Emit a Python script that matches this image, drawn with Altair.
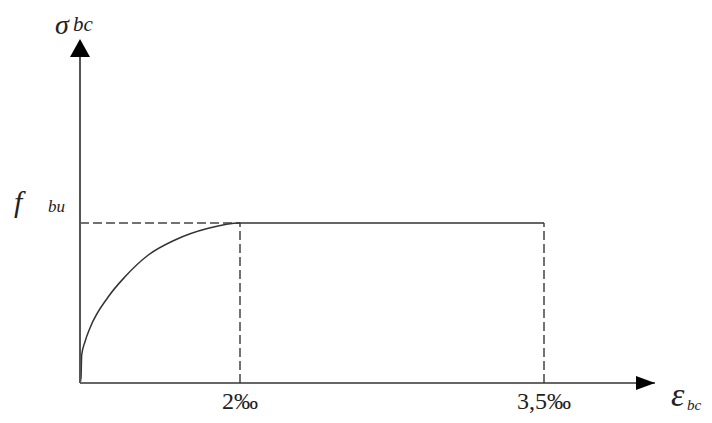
import altair as alt
import pandas as pd

# strain (per mille) and stress (fraction of f_bu) of the parabola-rectangle diagram
curve_eps = [0.0, 0.0125, 0.021, 0.0625, 0.125, 0.354, 0.5625, 0.854, 1.1875, 1.604, 2.0, 3.5]
curve_sig = [0.0, 0.031, 0.175, 0.258, 0.344, 0.539, 0.664, 0.800, 0.894, 0.967, 1.0, 1.0]

tick_eps = [2.0, 3.5]
tick_labels = ["2‰", "3,5‰"]
axis_end_eps = 5.0
axis_end_sig = 2.15

FONT = "'Liberation Serif', 'Times New Roman', Times, serif"
xs = alt.Scale(domain=[0, 2, 3.5, 5], range=[72, 232, 536, 647])
ys = alt.Scale(domain=[0, 1], range=[375, 215])

curve_df = pd.DataFrame({"eps": curve_eps, "sig": curve_sig})
curve = alt.Chart(curve_df).mark_line(color="#333333", strokeWidth=1.5, interpolate="monotone").encode(
    x=alt.X("eps:Q", scale=xs, axis=None),
    y=alt.Y("sig:Q", scale=ys, axis=None),
    order="eps:Q",
)

dash_df = pd.DataFrame({
    "x": [0.0, tick_eps[0], tick_eps[1]],
    "x2": [tick_eps[0], tick_eps[0], tick_eps[1]],
    "y": [1.0, 0.0, 0.0],
    "y2": [1.0, 1.0, 1.0],
})
dashes = alt.Chart(dash_df).mark_rule(color="#444444", strokeWidth=1.5, strokeDash=[9, 4]).encode(
    x=alt.X("x:Q", scale=xs, axis=None), x2="x2:Q",
    y=alt.Y("y:Q", scale=ys, axis=None), y2="y2:Q",
)

axes_df = pd.DataFrame({
    "x": [0.0, 0.0], "x2": [axis_end_eps, 0.0],
    "y": [0.0, 0.0], "y2": [0.0, axis_end_sig - 0.1],
    "c": ["#333333", "#555555"], "w": [1.5, 2.0],
})
axes = alt.Chart(axes_df).mark_rule().encode(
    x=alt.X("x:Q", scale=xs, axis=None), x2="x2:Q",
    y=alt.Y("y:Q", scale=ys, axis=None), y2="y2:Q",
    color=alt.Color("c:N", scale=None),
    strokeWidth=alt.StrokeWidth("w:Q", scale=None),
)

up_arrow = alt.Chart(pd.DataFrame({"x": [0.0], "y": [axis_end_sig]})).mark_point(
    shape="M0,0L-1,1.8L1,1.8Z", size=400, filled=True, color="black", opacity=1
).encode(x=alt.X("x:Q", scale=xs, axis=None), y=alt.Y("y:Q", scale=ys, axis=None))

right_arrow = alt.Chart(pd.DataFrame({"x": [axis_end_eps], "y": [0.0]})).mark_point(
    shape="M0,0L-1.9,-0.7L-1.9,0.7Z", size=400, filled=True, color="black", opacity=1
).encode(x=alt.X("x:Q", scale=xs, axis=None), y=alt.Y("y:Q", scale=ys, axis=None))

ticks_df = pd.DataFrame({"x": tick_eps, "y": [0.0, 0.0], "t": tick_labels, "dx": [7, 9]})
tick_text = alt.Chart(ticks_df).mark_text(
    font=FONT, fontSize=24, color="#222222", baseline="alphabetic", align="center", dy=26
).encode(
    x=alt.X("x:Q", scale=xs, axis=None), y=alt.Y("y:Q", scale=ys, axis=None), text="t:N",
    xOffset=alt.XOffset("dx:Q", scale=None),
)


def label(txt, x, y, dx, dy, size):
    return alt.Chart(pd.DataFrame({"x": [x], "y": [y], "t": [txt]})).mark_text(
        font=FONT, fontSize=size, fontStyle="italic", color="#222222",
        align="left", baseline="alphabetic", dx=dx, dy=dy,
    ).encode(x=alt.X("x:Q", scale=xs, axis=None), y=alt.Y("y:Q", scale=ys, axis=None), text="t:N")


labels = [
    label("σ", 0.0, axis_end_sig, -25, -5, 28),
    label("bc", 0.0, axis_end_sig, -7, -8, 21),
    label("f", 0.0, 1.0, -66, -11, 30),
    label("bu", 0.0, 1.0, -32, -11, 17),
    label("ε", axis_end_eps, 0.0, 16, 23, 34),
    label("bc", axis_end_eps, 0.0, 32, 27, 15),
]

chart = alt.layer(dashes, curve, axes, up_arrow, right_arrow, tick_text, *labels).properties(
    width=696, height=407, padding=0, autosize=alt.AutoSizeParams(type="none"), background="white"
).configure_view(stroke=None)

chart.save("out.html", embed_options={"renderer": "svg", "actions": False})
